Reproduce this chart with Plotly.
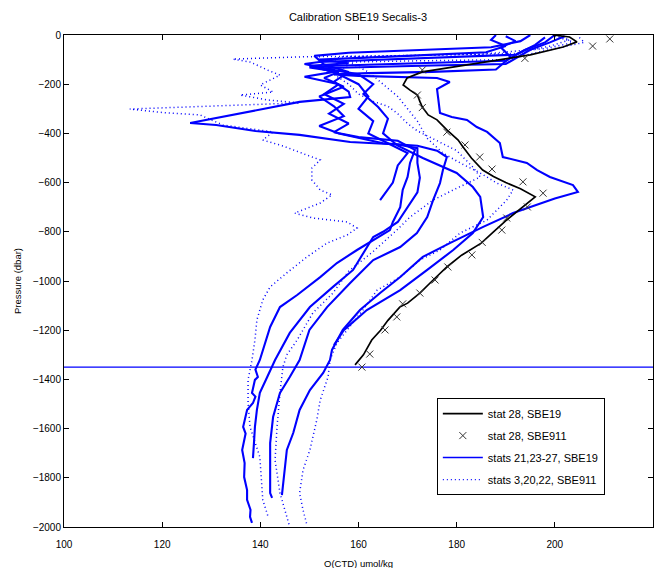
import plotly.graph_objects as go

# ---------------- data ----------------
# stat 28, SBE19 (black line)
st28_o2 = [199.6, 203, 204.5, 201.7, 195, 185.6, 178, 173, 169.9, 169.1, 170.5, 172, 172.5, 173, 174.2, 176,
           178, 180.3, 181.3, 183, 185.3, 187.5, 190, 193, 196, 194, 190.2, 187.5, 185, 181, 178, 175, 172.5,
           170, 168.4, 166, 164.5, 162.7, 161, 159.3]
st28_p = [0, -8, -28, -49, -81, -110, -134, -150, -175, -203, -224, -244, -270, -293, -325, -345,
          -386, -427, -455, -500, -549, -575, -600, -625, -658, -690, -752, -800, -846, -895, -943, -1000, -1049,
          -1090, -1106, -1160, -1200, -1240, -1300, -1341]

# stat 28, SBE911 (x markers)
st28_911_o2 = [211.2, 207.7, 193.9, 173, 172, 173, 178, 181.7, 184.7, 187.2, 193.5, 197.6, 194.4, 190.2,
               189.2, 185.2, 183.1, 178.2, 175.6, 172.5, 169, 167.8, 165.4, 162.3, 160.7]
st28_911_p = [-16, -45, -95, -142, -244, -295, -395, -447, -496, -545, -597, -643, -699, -744,
              -793, -843, -894, -943, -996, -1049, -1093, -1146, -1199, -1297, -1350]

# stations 21,23-27, SBE19 (blue solid lines)
s1_o2 = [188, 187, 190, 186, 170, 155, 152, 158, 150, 155, 149, 156, 153, 157, 154, 158, 155, 160, 168,
         171.5, 170.5, 170, 169, 168.5, 167, 166.4, 163, 159.7, 155.6, 152.2, 147.5, 144, 142, 140.5, 139.9,
         139, 139.5, 138.9, 138.3, 139, 138.5, 137.3, 136.5, 137, 136.3, 136.8, 136.7, 137.3, 137.3, 138,
         137.9, 138.3]
s1_p = [0, -20, -45, -70, -85, -95, -100, -115, -125, -150, -170, -200, -240, -280, -320, -360, -395, -415,
        -430, -467, -520, -577, -630, -700, -760, -793, -833, -874, -927, -984, -1057, -1106, -1187, -1280,
        -1321, -1360, -1390, -1402, -1455, -1470, -1496, -1524, -1593, -1620, -1687, -1740, -1797, -1850,
        -1890, -1930, -1959, -1983]

s2_o2 = [195, 193, 187, 172, 158, 151, 153, 158, 155, 158, 158.3, 148, 135.9, 125.7, 131, 139, 148, 158.3,
         168, 172, 172, 172.5, 172, 170, 168, 165, 163, 161, 158.9, 154.8, 150.1, 146, 143, 141.4, 139.9,
         139.3, 138.9, 138.7, 138.5]
s2_p = [0, -25, -50, -60, -72, -85, -120, -150, -190, -230, -252, -272, -317, -358, -366, -390, -406, -435,
        -445, -460, -520, -580, -640, -700, -760, -800, -821, -886, -955, -1024, -1106, -1211, -1321, -1390,
        -1455, -1524, -1593, -1659, -1720]

s3_o2 = [200, 198, 194, 190, 172, 155, 150, 156, 153, 157, 152, 155, 157, 152, 156, 165, 172, 176, 178,
         177.2, 176.6, 175.2, 174, 171.9, 168.5, 163, 158.3, 153.6, 150, 148, 146, 144, 142.6, 142, 142,
         142, 142.4]
s3_p = [0, -30, -60, -105, -115, -125, -132, -150, -175, -210, -250, -290, -330, -370, -400, -440, -450,
        -470, -496, -549, -602, -671, -740, -805, -862, -915, -1008, -1106, -1199, -1321, -1390, -1455,
        -1553, -1659, -1768, -1862, -1882]

s4_o2 = [190, 192, 189, 191, 188, 175, 162, 155, 160, 170, 176, 178.6, 176, 176.2, 176.6, 179, 182.1,
         184.1, 186.2, 188.8, 189.4, 194.3, 196.4, 199, 203.7, 204.7, 200, 191.5, 185.4, 178.6, 173.1,
         168.5, 164.4, 160.3, 156.8, 154.6, 154.2, 152.8, 150.1, 148, 146.7, 145.4, 145, 144.6, 144.4]
s4_p = [-5, -25, -50, -90, -140, -150, -155, -160, -166, -170, -175, -191, -220, -252, -317, -333, -345,
        -374, -394, -439, -496, -520, -549, -577, -610, -638, -665, -724, -780, -846, -902, -984, -1049,
        -1118, -1199, -1280, -1321, -1374, -1443, -1524, -1618, -1687, -1768, -1837, -1870]

s5_o2 = [198, 196, 192, 178, 162, 152, 149, 153, 160, 163, 161, 164, 166, 165, 168, 173.1, 180, 183.3,
         184.8, 185.4, 183.3, 179.3, 174, 168.5, 161.7, 157, 155]
s5_p = [-10, -40, -80, -90, -100, -110, -118, -135, -160, -200, -240, -293, -340, -400, -450, -500, -561,
        -618, -658, -740, -805, -874, -955, -1037, -1118, -1200, -1260]

s6_o2 = [202, 199, 195, 190, 175, 160, 152, 155, 160, 162, 160, 163, 162, 166, 170, 168, 167, 164.4]
s6_p = [-5, -30, -60, -118, -124, -130, -135, -150, -200, -250, -300, -350, -400, -440, -480, -530, -600,
        -671]

# stations 3,20,22, SBE911 (blue dotted lines)
d1_o2 = [200, 204, 198, 185, 165, 148, 134.4, 138, 141.4, 144, 140, 142.6, 135.9, 141.4, 148, 130, 113.4,
         120, 127.7, 132.4, 137.3, 142.6, 140.5, 144.6, 149.5, 152.2, 150.5, 150.5, 152.2, 154.6, 152.2,
         147, 150.7, 157.7, 159.7, 157.7, 153.6, 149.5, 145.4, 142, 140.5, 139.3, 138.9, 138.3, 137.5,
         137.5, 137.9, 139.9, 140.5, 141.6]
d1_p = [-5, -30, -55, -78, -85, -89, -98, -110, -142, -163, -203, -232, -244, -264, -276, -290, -301,
        -315, -325, -366, -378, -394, -427, -451, -488, -508, -541, -589, -630, -650, -683,
        -724, -744, -760, -785, -813, -846, -902, -967, -1024, -1077, -1158, -1240, -1321, -1402,
        -1496, -1593, -1715, -1890, -1959]

d2_o2 = [200, 203, 199, 192, 175, 157, 154, 158, 155, 158, 160, 163, 166, 168, 170, 172, 176, 180, 183.3,
         184.8, 179.3, 175.2, 170.5, 167.8, 163, 158, 154.8, 150.7, 147.5, 145.4, 144.6, 144, 143.4, 143,
         144, 145, 146]
d2_p = [0, -20, -45, -75, -82, -88, -100, -120, -160, -200, -240, -270, -290, -320, -360, -390, -430, -470,
        -537, -577, -630, -671, -740, -793, -880, -960, -1049, -1130, -1240, -1300, -1350, -1455, -1593,
        -1728, -1862, -1931, -2000]

d3_o2 = [205, 206, 200, 190, 172, 158, 162, 165, 168, 170, 172, 174, 177.2, 180.7, 184.8, 188.2, 191.5,
         190.2, 186.2, 180.7, 176.6, 172.5, 168.5, 163.8, 160.9, 155.6, 154.2, 153.8, 152.2, 151.5, 150.5,
         150.1, 148.7, 148, 148.7, 149.5]
d3_p = [-10, -30, -55, -100, -105, -110, -150, -200, -250, -300, -350, -420, -480, -520, -561, -602, -630,
        -671, -752, -805, -874, -915, -984, -1037, -1118, -1252, -1321, -1390, -1484, -1565, -1646,
        -1687, -1768, -1862, -1931, -1992]

ref_pressure = -1350  # horizontal reference line
x_ticks = [100, 120, 140, 160, 180, 200, 220]
y_ticks = [0, -200, -400, -600, -800, -1000, -1200, -1400, -1600, -1800, -2000]

BLUE = "#0000ff"
FONT = "Liberation Sans"
DOT = "1px,3px"

fig = go.Figure()

solid = [(s1_o2, s1_p), (s2_o2, s2_p), (s3_o2, s3_p), (s4_o2, s4_p), (s5_o2, s5_p), (s6_o2, s6_p)]
dotted = [(d1_o2, d1_p), (d2_o2, d2_p), (d3_o2, d3_p)]

for xo, yp in dotted:
    fig.add_trace(go.Scatter(x=xo, y=yp, mode="lines", line=dict(color=BLUE, width=1.5, dash=DOT),
                             showlegend=False, hoverinfo="skip"))
for xo, yp in solid:
    fig.add_trace(go.Scatter(x=xo, y=yp, mode="lines", line=dict(color=BLUE, width=2.1),
                             showlegend=False, hoverinfo="skip"))

fig.add_trace(go.Scatter(x=[x_ticks[0], x_ticks[-1]], y=[ref_pressure, ref_pressure], mode="lines",
                         line=dict(color=BLUE, width=1.2), showlegend=False, hoverinfo="skip"))

fig.add_trace(go.Scatter(x=st28_o2, y=st28_p, mode="lines", line=dict(color="black", width=1.7),
                         name="stat 28, SBE19", legendgroup="g1"))
fig.add_trace(go.Scatter(x=st28_911_o2, y=st28_911_p, mode="markers",
                         marker=dict(symbol="x-thin", size=7, line=dict(color="#333333", width=1)),
                         name="stat 28, SBE911", legendgroup="g2"))
# legend entries for the blue groups
fig.add_trace(go.Scatter(x=[None], y=[None], mode="lines", line=dict(color=BLUE, width=1.5),
                         name="stats 21,23-27, SBE19", legendgroup="g3"))
fig.add_trace(go.Scatter(x=[None], y=[None], mode="lines", line=dict(color=BLUE, width=1.2, dash=DOT),
                         name="stats 3,20,22, SBE911", legendgroup="g4"))

axis_common = dict(showline=True, linecolor="black", linewidth=1, mirror="ticks", ticks="inside",
                   ticklen=5, tickcolor="black", showgrid=False, zeroline=False,
                   tickfont=dict(family=FONT, size=10, color="black"))

# the page body adds an 8px margin; the figure is drawn 648px wide starting at x=8
W, H = 648, 560
fig.update_layout(
    width=W, height=H,
    margin=dict(l=56, r=3, t=27, b=41),
    paper_bgcolor="white", plot_bgcolor="white",
    title=dict(text="Calibration SBE19 Secalis-3", x=(358 - 8) / W, xanchor="center",
               y=1 - 9 / H, yanchor="middle",
               font=dict(family=FONT, size=11, color="black")),
    xaxis=dict(range=[100, 220], tickvals=x_ticks, ticklabelstandoff=8, **axis_common),
    yaxis=dict(range=[-2000, 0], tickvals=y_ticks, **axis_common),
    legend=dict(x=0.633, y=0.262, xanchor="left", yanchor="top", bgcolor="white", bordercolor="black",
                borderwidth=1, font=dict(family=FONT, size=11, color="black"),
                traceorder="grouped", tracegroupgap=3, itemwidth=40),
    showlegend=True,
    annotations=[
        dict(text="O(CTD) umol/kg", xref="paper", yref="paper", x=0.5, y=-(555 - 519) / 492,
             xanchor="center", yanchor="middle", showarrow=False,
             font=dict(family=FONT, size=9.5, color="black")),
        dict(text="Pressure (dbar)", xref="paper", yref="paper", x=-(64 - 17) / 589, y=0.5,
             xanchor="center", yanchor="middle", textangle=-90, showarrow=False,
             font=dict(family=FONT, size=9.5, color="black")),
    ],
)

fig.write_html("out.html")
